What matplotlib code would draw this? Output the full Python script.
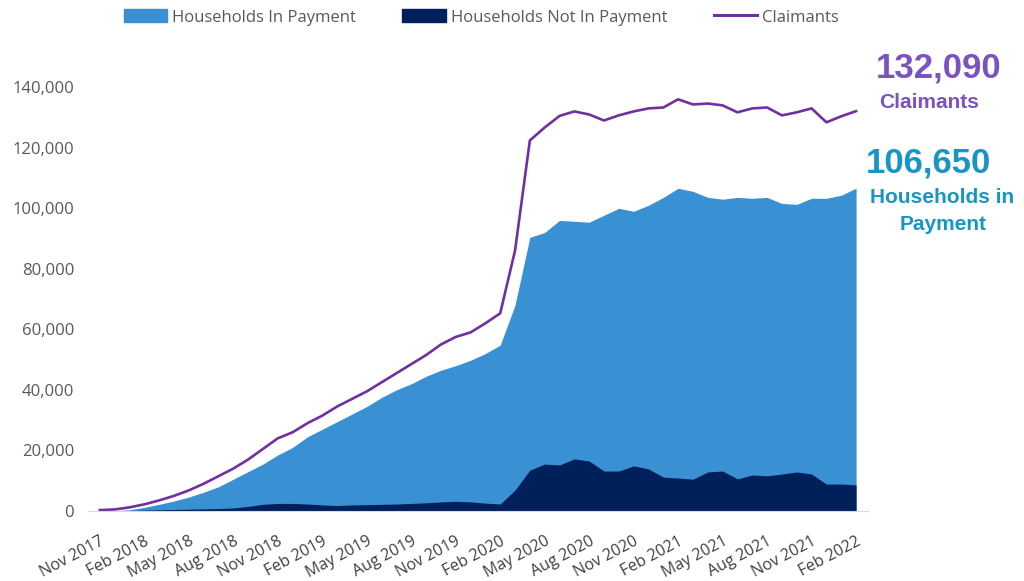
import matplotlib
matplotlib.use("Agg")
import matplotlib.pyplot as plt
from matplotlib.patches import Patch
from matplotlib.lines import Line2D
from matplotlib.ticker import FuncFormatter

# months from Nov 2017 to Feb 2022
mois = ["Nov", "Dec", "Jan", "Feb", "Mar", "Apr", "May", "Jun", "Jul", "Aug", "Sep", "Oct"]
labels = []
for i in range(52):
    m = mois[i % 12]
    annee = 2017 + (i + 10) // 12
    labels.append(f"{m} {annee}")

claimants = [300, 500, 1200, 2200, 3500, 5000, 6800, 9000, 11500, 14000,
             17000, 20500, 24000, 26000, 29000, 31500, 34500, 37000, 39500, 42500,
             45500, 48500, 51500, 55000, 57500, 59000, 62000, 65300, 86000, 122400,
             126700, 130500, 132000, 131000, 129000, 130700, 132000, 133000, 133300, 136000,
             134300, 134600, 134000, 131700, 133000, 133300, 130700, 131700, 133000, 128400,
             130400, 132090]

in_payment = [0, 100, 400, 1200, 2200, 3300, 4600, 6200, 8000, 10500,
              13000, 15500, 18500, 21000, 24500, 27000, 29500, 32000, 34500, 37500,
              40000, 42000, 44500, 46500, 48000, 49800, 52000, 54800, 68000, 90400,
              92000, 96000, 95700, 95400, 97700, 100000, 99000, 101000, 103600, 106600,
              105600, 103600, 103000, 103600, 103300, 103600, 101600, 101300, 103300, 103300,
              104300, 106650]

not_in_payment = [0, 50, 150, 300, 400, 500, 600, 700, 800, 1000,
                  1500, 2200, 2500, 2500, 2300, 2000, 1800, 2000, 2100, 2200,
                  2300, 2500, 2700, 3000, 3200, 3000, 2600, 2300, 6900, 13500,
                  15500, 15200, 17200, 16500, 13200, 13200, 14900, 13900, 11200, 10900,
                  10500, 12900, 13200, 10600, 11900, 11600, 12200, 12900, 12200, 8900,
                  8900, 8600]

bleu = "#3990D3"
marine = "#00205B"
violet = "#7030A0"
gris = "#595959"

plt.rcParams['font.family'] = ['Open Sans', 'DejaVu Sans']

fig = plt.figure(figsize=(10.24, 5.81), dpi=100)
ax = fig.add_axes([0.0859, 0.1205, 0.7617, 0.7815])

x = list(range(len(labels)))
ax.fill_between(x, 0, in_payment, color=bleu, linewidth=0)
ax.fill_between(x, 0, not_in_payment, color=marine, linewidth=0)
ax.plot(x, claimants, color=violet, linewidth=1.9)

ax.set_xlim(-0.8, 51.8)
ax.set_ylim(0, 150000)
ax.set_yticks(range(0, 140001, 20000))
ax.yaxis.set_major_formatter(FuncFormatter(lambda v, p: f"{int(v):,}"))
ax.set_xticks(x[::3])
ax.set_xticklabels(labels[::3], rotation=28, ha="right", rotation_mode="anchor")

ax.tick_params(axis="y", length=0, labelsize=12, labelcolor=gris, pad=10)
ax.tick_params(axis="x", length=0, labelsize=11.5, labelcolor="#404040", pad=16)
for s in ["top", "right", "left"]:
    ax.spines[s].set_visible(False)
ax.spines["bottom"].set_color("#D9D9D9")

# legende en haut
poignees = [Patch(color=bleu), Patch(color=marine), Line2D([], [], color=violet, linewidth=2.2)]
noms = ["Households In Payment", "Households Not In Payment", "Claimants"]
fig.legend(poignees, noms, loc="center", bbox_to_anchor=(0.47, 0.97), ncol=3,
           frameon=False, handlelength=2.6, handleheight=0.8, columnspacing=2.8,
           handletextpad=0.3, prop={"size": 12}, labelcolor=gris)

# annotations a droite
bold = dict(family=["Liberation Sans", "DejaVu Sans"], weight="bold", ha="center", va="center")
fig.text(939 / 1024, 1 - 68 / 581, "132,090", color="#7B52C1", fontsize=25, **bold)
fig.text(929 / 1024, 1 - 102 / 581, "Claimants", color="#7B52C1", fontsize=15, **bold)
fig.text(928 / 1024, 1 - 163 / 581, "106,650", color="#1796C6", fontsize=25, **bold)
fig.text(942 / 1024, 1 - 197 / 581, "Households in", color="#1796C6", fontsize=15, **bold)
fig.text(943 / 1024, 1 - 225 / 581, "Payment", color="#1796C6", fontsize=15, **bold)

fig.savefig("out.png", dpi=100)
